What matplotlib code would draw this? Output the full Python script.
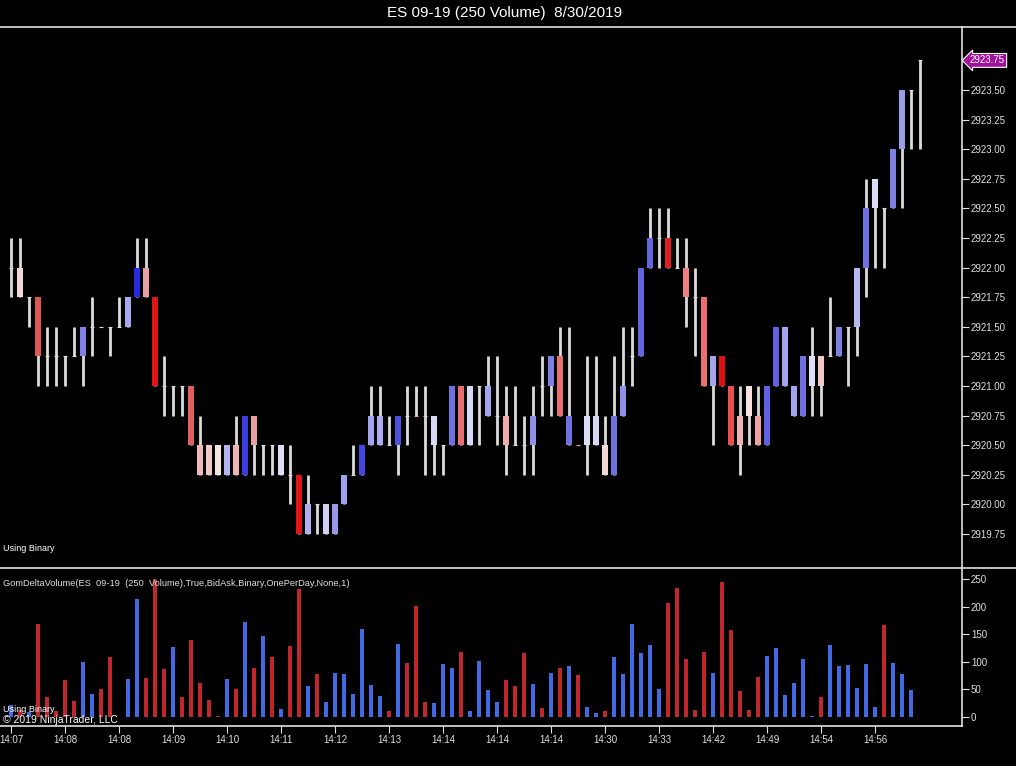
import numpy as np
import matplotlib
matplotlib.use("Agg")
import matplotlib.pyplot as plt
import matplotlib.transforms as mtransforms
from matplotlib.lines import Line2D

plt.rcParams['font.family'] = ['Liberation Sans', 'DejaVu Sans']

# ---- price bars (250 volume) ----
highs = [2922.25, 2922.25, 2921.75, 2921.75, 2921.5, 2921.5, 2921.25, 2921.5, 2921.5, 2921.75,
         2921.5, 2921.5, 2921.75, 2921.75, 2922.25, 2922.25, 2921.75, 2921.25, 2921.0, 2921.0,
         2921.0, 2920.75, 2920.5, 2920.5, 2920.5, 2920.75, 2920.75, 2920.75, 2920.5, 2920.5,
         2920.5, 2920.5, 2920.25, 2920.25, 2920.0, 2920.0, 2920.0, 2920.25, 2920.5, 2920.5,
         2921.0, 2921.0, 2920.75, 2920.75, 2921.0, 2921.0, 2921.0, 2920.75, 2920.5, 2921.0,
         2921.0, 2921.0, 2921.0, 2921.25, 2921.25, 2921.0, 2921.0, 2920.75, 2921.0, 2921.25,
         2921.25, 2921.5, 2921.5, 2920.5, 2921.25, 2921.25, 2920.75, 2921.25, 2921.5, 2921.5,
         2922.0, 2922.5, 2922.5, 2922.5, 2922.25, 2922.25, 2922.0, 2921.75, 2921.25, 2921.25,
         2921.0, 2921.0, 2921.0, 2921.0, 2921.0, 2921.5, 2921.5, 2921.0, 2921.25, 2921.5,
         2921.25, 2921.75, 2921.5, 2921.5, 2922.0, 2922.75, 2922.75, 2922.5, 2923.0, 2923.5,
         2923.5, 2923.75]
lows = [2921.75, 2921.75, 2921.5, 2921.0, 2921.0, 2921.0, 2921.0, 2921.25, 2921.0, 2921.25,
        2921.5, 2921.25, 2921.5, 2921.5, 2921.75, 2921.75, 2921.0, 2920.75, 2920.75, 2920.75,
        2920.5, 2920.25, 2920.25, 2920.25, 2920.25, 2920.25, 2920.25, 2920.25, 2920.25, 2920.25,
        2920.25, 2920.0, 2919.75, 2919.75, 2919.75, 2919.75, 2919.75, 2920.0, 2920.25, 2920.25,
        2920.5, 2920.5, 2920.5, 2920.25, 2920.5, 2920.75, 2920.25, 2920.25, 2920.25, 2920.5,
        2920.5, 2920.5, 2920.5, 2920.75, 2920.5, 2920.25, 2920.5, 2920.25, 2920.25, 2920.75,
        2920.75, 2920.75, 2920.5, 2920.5, 2920.25, 2920.5, 2920.25, 2920.25, 2920.75, 2921.0,
        2921.25, 2922.0, 2922.0, 2922.0, 2922.0, 2921.5, 2921.25, 2921.0, 2920.5, 2921.0,
        2920.5, 2920.25, 2920.5, 2920.5, 2920.5, 2921.0, 2921.0, 2920.75, 2920.75, 2920.75,
        2920.75, 2921.25, 2921.25, 2921.0, 2921.25, 2921.75, 2922.0, 2922.0, 2922.5, 2922.5,
        2923.0, 2923.0]
opens = [2922.0, 2922.0, 2921.75, 2921.75, 2921.25, 2921.25, 2921.25, 2921.25, 2921.5, 2921.5,
         2921.5, 2921.5, 2921.5, 2921.75, 2922.0, 2922.0, 2921.75, 2921.0, 2921.0, 2921.0,
         2921.0, 2920.5, 2920.5, 2920.5, 2920.5, 2920.5, 2920.75, 2920.75, 2920.5, 2920.5,
         2920.5, 2920.25, 2920.25, 2920.0, 2920.0, 2920.0, 2920.0, 2920.25, 2920.25, 2920.5,
         2920.75, 2920.75, 2920.5, 2920.75, 2920.75, 2920.75, 2920.75, 2920.75, 2920.5, 2921.0,
         2921.0, 2921.0, 2921.0, 2921.0, 2920.75, 2920.75, 2920.5, 2920.5, 2920.75, 2921.0,
         2921.25, 2921.25, 2920.75, 2920.5, 2920.75, 2920.75, 2920.5, 2920.75, 2921.0, 2921.25,
         2922.0, 2922.25, 2922.25, 2922.25, 2922.0, 2922.0, 2921.75, 2921.75, 2921.25, 2921.25,
         2921.0, 2920.75, 2921.0, 2920.75, 2921.0, 2921.5, 2921.5, 2921.0, 2921.25, 2921.25,
         2921.25, 2921.25, 2921.5, 2921.5, 2922.0, 2922.5, 2922.75, 2922.5, 2923.0, 2923.5,
         2923.5, 2923.75]
closes = [2922.0, 2921.75, 2921.75, 2921.25, 2921.25, 2921.25, 2921.25, 2921.25, 2921.25, 2921.5,
          2921.5, 2921.5, 2921.5, 2921.5, 2921.75, 2921.75, 2921.0, 2921.0, 2921.0, 2921.0,
          2920.5, 2920.25, 2920.25, 2920.25, 2920.25, 2920.25, 2920.25, 2920.5, 2920.5, 2920.5,
          2920.25, 2920.25, 2919.75, 2919.75, 2920.0, 2919.75, 2919.75, 2920.0, 2920.25, 2920.25,
          2920.5, 2920.5, 2920.5, 2920.5, 2920.75, 2920.75, 2920.75, 2920.5, 2920.5, 2920.5,
          2920.5, 2920.5, 2921.0, 2920.75, 2920.75, 2920.5, 2920.5, 2920.5, 2920.5, 2921.0,
          2921.0, 2920.75, 2920.5, 2920.5, 2920.5, 2920.5, 2920.25, 2920.25, 2920.75, 2921.25,
          2921.25, 2922.0, 2922.25, 2922.0, 2922.0, 2921.75, 2921.75, 2921.0, 2921.0, 2921.0,
          2920.5, 2920.5, 2920.75, 2920.5, 2920.5, 2921.0, 2921.0, 2920.75, 2920.75, 2921.0,
          2921.0, 2921.25, 2921.25, 2921.5, 2921.5, 2922.0, 2922.5, 2922.5, 2922.5, 2923.0,
          2923.5, 2923.75]
body_colors = ['#dcdcdc', '#f4d8d8', '#dcdcdc', '#e05555', '#dcdcdc', '#dcdcdc', '#dcdcdc', '#dcdcdc', '#8080e8', '#dcdcdc',
               '#dcdcdc', '#dcdcdc', '#dcdcdc', '#a8a8f0', '#2828e0', '#e8a0a0', '#e01515', '#dcdcdc', '#dcdcdc', '#dcdcdc',
               '#e06060', '#f0b8b8', '#f0c8c8', '#f4e4e4', '#b4b4f0', '#f0b4b4', '#3c3ce0', '#e8a0a0', '#dcdcdc', '#dcdcdc',
               '#dcdcf4', '#dcdcdc', '#e01515', '#b0b0f0', '#dcdcdc', '#d0d0f2', '#9898e8', '#a0a0ee', '#dcdcdc', '#4444e0',
               '#a4a4f0', '#acacf0', '#dcdcdc', '#5050e0', '#dcdcdc', '#e8a0a0', '#dcdcdc', '#d8d8f4', '#dcdcdc', '#7070e0',
               '#e87070', '#d8d8f4', '#dcdcdc', '#a4a4f0', '#dcdcdc', '#f0a8a8', '#dcdcdc', '#dcdcdc', '#9090e8', '#dcdcdc',
               '#8080e4', '#e87070', '#7070e0', '#e8a0a0', '#dcdcf4', '#d8d8f4', '#f4d8d8', '#7070e0', '#9090e8', '#dcdcdc',
               '#6464e0', '#6464e0', '#dcdcdc', '#e02020', '#dcdcdc', '#f08080', '#dcdcdc', '#e87070', '#a4a4f0', '#e01010',
               '#e85050', '#f0b4b4', '#f8e0e0', '#f0a0a0', '#6060e0', '#6060e0', '#a4a4f0', '#a4a4f0', '#7070e0', '#e0e0f8',
               '#f0c8c8', '#dcdcdc', '#8080e0', '#dcdcdc', '#b8b8f0', '#7070e0', '#dcdcf4', '#dcdcdc', '#8080e0', '#9c9ce8',
               '#dcdcdc', '#dcdcdc']

# ---- GomDeltaVolume panel ----
vol_values = [22, 13, 9, 168, 36, 10, 66, 29, 100, 42, 51, 108, 0, 68, 214, 71, 250, 86, 126, 36,
              140, 62, 31, 2, 68, 51, 172, 89, 146, 108, 14, 128, 232, 55, 77, 27, 80, 78, 42, 160,
              57, 38, 10, 133, 97, 201, 27, 25, 95, 88, 117, 10, 102, 49, 27, 66, 55, 115, 60, 16,
              80, 88, 93, 75, 18, 7, 10, 108, 78, 168, 115, 130, 51, 207, 234, 105, 12, 118, 80, 245,
              158, 47, 12, 72, 110, 125, 39, 61, 105, 1, 36, 130, 92, 94, 52, 96, 18, 167, 98, 78,
              48, 0]
vol_side = list('brbrrrrrbbrrbbbrrrbr'
                'rrrrbrbrbrbrrbrbbbbb'
                'bbrbrrrbbbrbbbbrrrbr'
                'brbrbbrbbbbbbrrrrrbr'
                'rrrrbbbbbbrbbbbbbrbb'
                'bb')

time_labels = ['14:07', '14:08', '14:08', '14:09', '14:10', '14:11', '14:12', '14:13', '14:14',
               '14:14', '14:14', '14:30', '14:33', '14:42', '14:49', '14:54', '14:56']
price_ticks = [2919.75, 2920.0, 2920.25, 2920.5, 2920.75, 2921.0, 2921.25, 2921.5,
               2921.75, 2922.0, 2922.25, 2922.5, 2922.75, 2923.0, 2923.25, 2923.5]
vol_ticks = [0, 50, 100, 150, 200, 250]
last_price = 2923.75

fg = '#e0e0e0'
wick_color = '#dcdcdc'
x = np.arange(len(highs))
opens_a = np.array(opens)
closes_a = np.array(closes)

fig = plt.figure(figsize=(10.16, 7.66), dpi=100, facecolor='black')
ax = fig.add_axes([0, 1 - 567 / 766, 962 / 1016, 540 / 766], facecolor='black')
axv = fig.add_axes([0, 1 - 726 / 766, 962 / 1016, 158 / 766], facecolor='black')

# price bars: wick, then body or small doji tick
ax.vlines(x, lows, highs, color=wick_color, linewidth=2.0, zorder=2)
doji = opens_a == closes_a
ax.bar(x[~doji], (closes_a - opens_a)[~doji], bottom=opens_a[~doji], width=0.62,
       color=[c for c, d in zip(body_colors, doji) if not d], zorder=3, linewidth=0)
ax.hlines(opens_a[doji], x[doji] - 0.25, x[doji] + 0.25,
          color=[c for c, d in zip(body_colors, doji) if d], linewidth=0.8, zorder=3)

ax.set_xlim(-11 / 9, (962 - 11) / 9)
ax.set_ylim(2919.75 - 33 / 118.4, 2923.75 + 33.4 / 118.4)
ax.yaxis.tick_right()
ax.set_yticks(price_ticks)
ax.set_yticklabels(['%.2f' % p for p in price_ticks])
ax.tick_params(axis='y', colors=fg, labelsize=7, length=5, width=0.8, pad=1.5)
ax.set_xticks([])
for s in ['left', 'top', 'bottom']:
    ax.spines[s].set_visible(False)
ax.spines['right'].set_color(fg)
ax.spines['right'].set_linewidth(1.2)

# last price tag
trans = mtransforms.blended_transform_factory(ax.transAxes, ax.transData)
ax.text(1.008, last_price, '%.2f' % last_price, transform=trans, color='white', fontsize=7,
        va='center', ha='left', clip_on=False,
        bbox=dict(boxstyle='larrow,pad=0.2', fc='#a0129a', ec='white', lw=0.8))
ax.text(3 / 962, 2919.75 - 14 / 118.4, 'Using Binary', transform=trans, color='white',
        fontsize=6.5, va='center', ha='left')

# delta volume bars
vcol = ['#c0272d' if s == 'r' else '#4169e1' for s in vol_side]
axv.bar(x, vol_values, width=0.5, color=vcol, linewidth=0, zorder=2)
axv.set_xlim(-11 / 9, (962 - 11) / 9)
axv.set_ylim(-(726 - 716.7) / 0.5496, (716.7 - 568) / 0.5496)
axv.yaxis.tick_right()
axv.set_yticks(vol_ticks)
axv.tick_params(axis='y', colors=fg, labelsize=7, length=5, width=0.8, pad=1.5)
axv.set_xticks(x[::6])
axv.set_xticklabels(time_labels)
axv.tick_params(axis='x', colors=fg, labelsize=7, length=5, width=0.8, pad=1.5)
axv.spines['left'].set_visible(False)
axv.spines['top'].set_visible(False)
for s in ['right', 'bottom']:
    axv.spines[s].set_color(fg)
    axv.spines[s].set_linewidth(1.2)

axv.text(3 / 962, 1 - 16 / 158, 'GomDeltaVolume(ES  09-19  (250  Volume),True,BidAsk,Binary,OnePerDay,None,1)',
         transform=axv.transAxes, color=fg, fontsize=6.7, va='center', ha='left')
axv.text(3 / 962, 1 - 142 / 158, 'Using Binary', transform=axv.transAxes, color='white',
         fontsize=6.5, va='center', ha='left', zorder=5)
axv.text(3 / 962, 1 - 152 / 158, '\u00a9 2019 NinjaTrader, LLC', transform=axv.transAxes,
         color='white', fontsize=7.5, va='center', ha='left', zorder=5)

# full-width separators and title
fig.add_artist(Line2D([0, 1], [1 - 27 / 766, 1 - 27 / 766], color=fg, lw=1.2))
fig.add_artist(Line2D([0, 1], [1 - 567.5 / 766, 1 - 567.5 / 766], color=fg, lw=1.2))
fig.text(0.497, 1 - 13 / 766, 'ES 09-19 (250 Volume)  8/30/2019', color='white',
         fontsize=11, ha='center', va='center')

fig.savefig('out.png', dpi=100, facecolor='black')
